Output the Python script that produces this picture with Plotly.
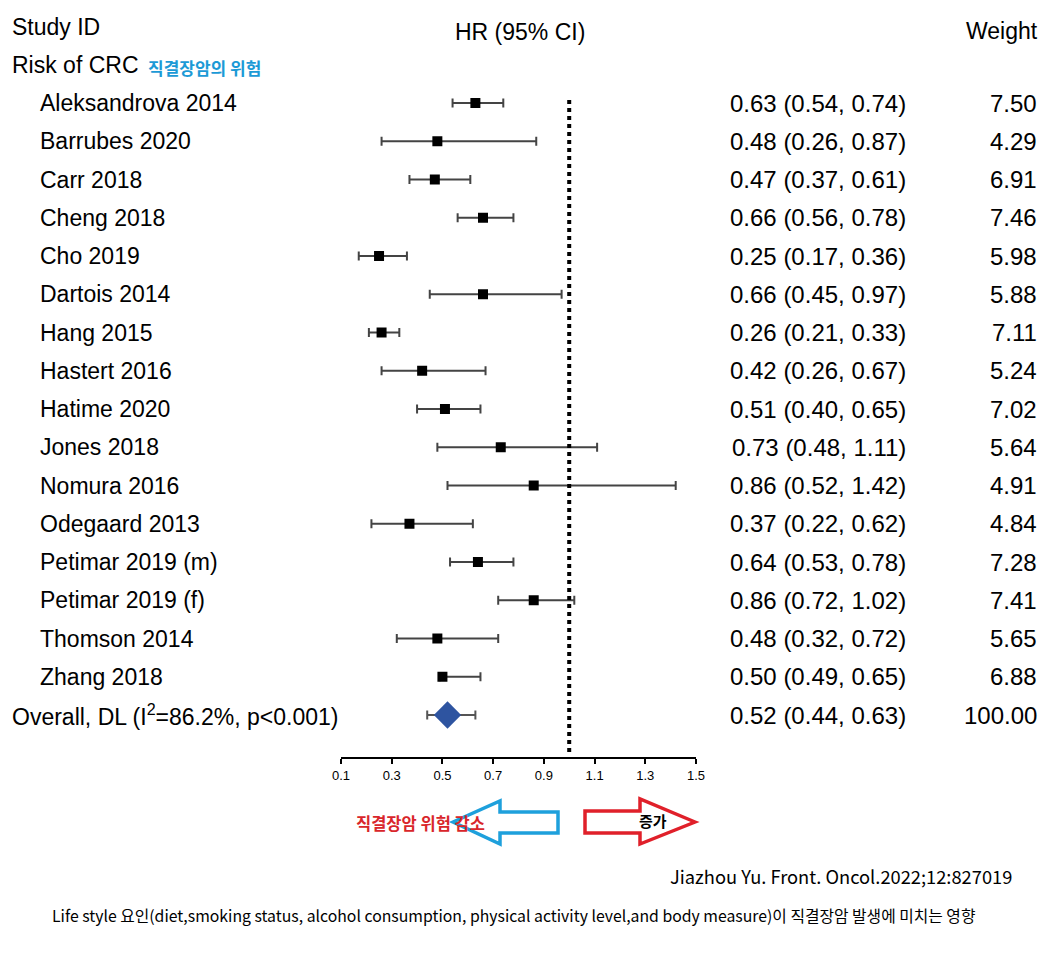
import plotly.graph_objects as go

W, H = 1047, 959
OFF = 8  # page body margin compensation
PAD = 2  # annotation box padding compensation

studies = ["Aleksandrova 2014", "Barrubes 2020", "Carr 2018", "Cheng 2018", "Cho 2019",
           "Dartois 2014", "Hang 2015", "Hastert 2016", "Hatime 2020", "Jones 2018",
           "Nomura 2016", "Odegaard 2013", "Petimar 2019 (m)", "Petimar 2019 (f)",
           "Thomson 2014", "Zhang 2018"]
hr = [0.63, 0.48, 0.47, 0.66, 0.25, 0.66, 0.26, 0.42, 0.51, 0.73, 0.86, 0.37, 0.64, 0.86, 0.48, 0.50]
lo = [0.54, 0.26, 0.37, 0.56, 0.17, 0.45, 0.21, 0.26, 0.40, 0.48, 0.52, 0.22, 0.53, 0.72, 0.32, 0.49]
hi = [0.74, 0.87, 0.61, 0.78, 0.36, 0.97, 0.33, 0.67, 0.65, 1.11, 1.42, 0.62, 0.78, 1.02, 0.72, 0.65]
weights = [7.50, 4.29, 6.91, 7.46, 5.98, 5.88, 7.11, 5.24, 7.02, 5.64, 4.91, 4.84, 7.28, 7.41, 5.65, 6.88]

overall_label = "Overall, DL (I<sup>2</sup>=86.2%, p<0.001)"
overall_hr, overall_lo, overall_hi, overall_w = 0.52, 0.44, 0.63, 100.00

tick_vals = [0.1, 0.3, 0.5, 0.7, 0.9, 1.1, 1.3, 1.5]


def px(x):
    return (x - OFF) / W


def py(y):
    return 1 - (y - OFF) / H


# row geometry: row 0 at pixel 103, spacing 38.25 px
ROW0, STEP = 103.0 - OFF, 38.25
y_top = (0 - ROW0) / STEP
y_bot = (H - ROW0) / STEP

rows = list(range(len(studies)))
overall_row = len(studies)

fig = go.Figure()

fig.add_trace(go.Scatter(
    x=hr, y=rows, mode="markers",
    marker=dict(symbol="square", size=10, color="black"),
    error_x=dict(type="data", symmetric=False,
                 array=[h - m for h, m in zip(hi, hr)],
                 arrayminus=[m - l for m, l in zip(hr, lo)],
                 color="#444444", thickness=2, width=4.5),
    showlegend=False, hoverinfo="skip"))

fig.add_trace(go.Scatter(
    x=[overall_hr], y=[overall_row], mode="markers",
    marker=dict(symbol="diamond", size=21, color="#2E54A0"),
    error_x=dict(type="data", symmetric=False,
                 array=[overall_hi - overall_hr], arrayminus=[overall_hr - overall_lo],
                 color="#555555", thickness=2, width=4.5),
    showlegend=False, hoverinfo="skip"))

fig.add_shape(type="line", xref="x", yref="paper", x0=1.0, x1=1.0,
              y0=py(752), y1=py(98),
              line=dict(color="black", width=4, dash="4px,4px"))

FONT = "Liberation Sans, Arial, sans-serif"
FS = 23
FSV = 24
KR = "Noto Sans CJK KR"


def txt(x, y, text, anchor, yref="paper", size=FS, family=FONT, color="black", pad=True):
    if pad and anchor == "left":
        x -= PAD / W
    elif pad and anchor == "right":
        x += PAD / W
    return dict(x=x, y=y, xref="paper", yref=yref, text=text, showarrow=False,
                xanchor=anchor, align=anchor if anchor != "center" else "center",
                yanchor="middle", font=dict(family=family, size=size, color=color))


ann = []
for i, s in enumerate(studies):
    ann.append(txt(px(40), i, s, "left", yref="y"))
    ann.append(txt(px(906), i, f"{hr[i]:.2f} ({lo[i]:.2f}, {hi[i]:.2f})", "right", yref="y", size=FSV))
    ann.append(txt(px(1039), i, f"{weights[i]:.2f}", "right", yref="y", size=FSV, pad=False))

ann.append(txt(px(12), overall_row, overall_label, "left", yref="y"))
ann.append(txt(px(906), overall_row,
               f"{overall_hr:.2f} ({overall_lo:.2f}, {overall_hi:.2f})", "right", yref="y", size=FSV))
ann.append(txt(px(1039), overall_row, f"{overall_w:.2f}", "right", yref="y", size=FSV, pad=False))

# headers
ann.append(txt(px(12), py(27), "Study ID", "left"))
ann.append(txt(px(520), py(32), "HR (95% CI)", "center"))
ann.append(txt(px(1040), py(31), "Weight", "right", pad=False))
ann.append(txt(px(12), py(65), "Risk of CRC", "left"))
ann.append(txt(px(148), py(67), "<b>직결장암의 위험</b>", "left", size=17, family=KR, color="#1C9AD6"))

ann.append(txt(px(356), py(823), "<b>직결장암 위험 감소</b>", "left", size=16.5, family=KR, color="#D9262B"))
ann.append(txt(px(639), py(820), "<b>증가</b>", "left", size=15, family=KR))

ann.append(txt(px(1012), py(876), "Jiazhou Yu. Front. Oncol.2022;12:827019", "right", size=18.3, family=KR))
ann.append(txt(px(52), py(915),
               "Life style 요인(diet,smoking status, alcohol consumption, physical activity level,and body measure)이 직결장암 발생에 미치는 영향",
               "left", size=15.8, family=KR))


def path(pts):
    return "M " + " L ".join(f"{px(x)},{py(y)}" for x, y in pts) + " Z"


blue_arrow = [(453, 822), (500, 801), (500, 812), (558, 812), (558, 833), (500, 833), (500, 844)]
red_arrow = [(695, 822), (640, 799), (640, 811), (585, 811), (585, 833), (640, 833), (640, 844)]
fig.add_shape(type="path", xref="paper", yref="paper", path=path(blue_arrow),
              line=dict(color="#1EA0DC", width=3.5), layer="below")
fig.add_shape(type="path", xref="paper", yref="paper", path=path(red_arrow),
              line=dict(color="#E0202A", width=3.5), layer="below")

fig.update_layout(
    width=W, height=H, margin=dict(l=0, r=0, t=0, b=0, autoexpand=False),
    paper_bgcolor="white", plot_bgcolor="white",
    annotations=ann,
    xaxis=dict(domain=[px(341), px(696)], range=[0.1, 1.5], anchor="free", position=py(758),
               showline=True, linecolor="black", linewidth=2, ticks="outside", ticklen=5,
               tickwidth=2, tickcolor="black", tickvals=tick_vals, tickformat=".1f",
               tickfont=dict(family=FONT, size=13, color="black"), showgrid=False, zeroline=False),
    yaxis=dict(domain=[0, 1], range=[y_bot, y_top], visible=False, showgrid=False, zeroline=False),
)

fig.write_html("out.html")
